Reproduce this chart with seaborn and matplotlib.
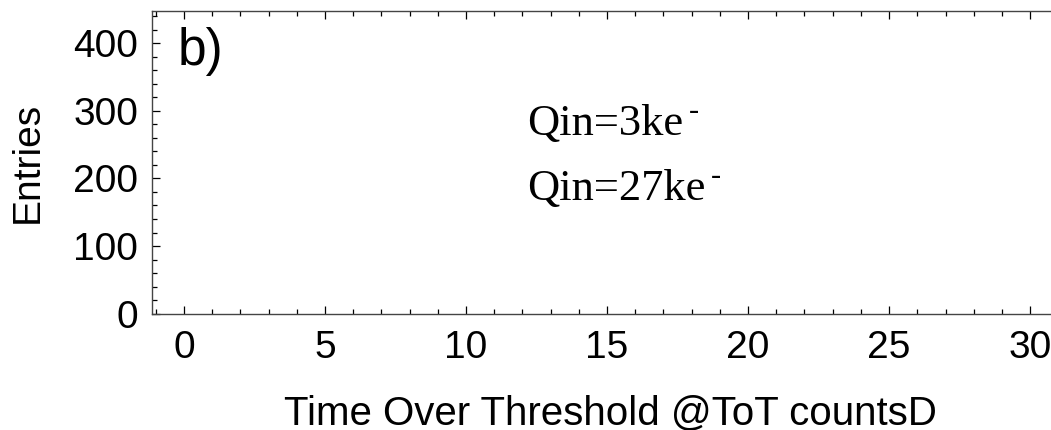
import matplotlib
matplotlib.use("Agg")
import matplotlib.pyplot as plt
import seaborn as sns
import numpy as np

# ---- data / labels ----
x_major_ticks = [0, 5, 10, 15, 20, 25, 30]
x_minor_ticks = list(range(-1, 31))
y_major_ticks = [0, 100, 200, 300, 400]
y_minor_ticks = list(range(0, 441, 20))
series_labels = ["Qin=3ke", "Qin=27ke"]
x_label = "Time Over Threshold @ToT countsD"
y_label = "Entries"
panel_label = "b)"
x_limits = (-1.13, 30.74)
y_limits = (0, 448)

sns.set_theme(style="ticks")
plt.rcParams["font.family"] = ["Liberation Sans", "DejaVu Sans"]
plt.rcParams["text.color"] = "black"
plt.rcParams["axes.labelcolor"] = "black"
plt.rcParams["xtick.color"] = "black"
plt.rcParams["ytick.color"] = "black"

W, H = 1051, 430
fig = plt.figure(figsize=(W / 100, H / 100), dpi=100)
ax = fig.add_axes([152 / W, 1 - 313.7 / H, 1 - 152 / W, (313.7 - 10.7) / H])

ax.set_xlim(*x_limits)
ax.set_ylim(*y_limits)
ax.set_xticks(x_major_ticks)
ax.set_xticks(x_minor_ticks, minor=True)
ax.set_yticks(y_major_ticks)
ax.set_yticks(y_minor_ticks, minor=True)
ax.set_facecolor("white")

sns.despine(ax=ax, top=False, right=True)
for s in ["left", "bottom", "top"]:
    ax.spines[s].set_color("#444444")
    ax.spines[s].set_linewidth(1.0)

ax.tick_params(axis="both", which="both", direction="in", top=True, right=False,
               colors="black", labelcolor="black", width=0.9)
ax.tick_params(axis="both", which="major", length=5.6, labelsize=28)
ax.tick_params(axis="both", which="minor", length=3.3)
ax.tick_params(axis="x", which="major", pad=12)
ax.tick_params(axis="y", which="major", pad=10)

# axis labels
fig.text(610 / W, 1 - 424 / H, x_label, fontsize=29, ha="center", va="baseline", color="black")
fig.text(28 / W, 1 - 162 / H, y_label, fontsize=28, rotation=90, ha="center", va="center",
         color="black")
fig.text(178 / W, 1 - 65 / H, panel_label, fontsize=37, ha="left", va="baseline", color="black")

# legend-like texts (serif with superscript minus)
serif = ["Liberation Serif", "DejaVu Serif"]
baselines = [135, 200]
fig.canvas.draw()
renderer = fig.canvas.get_renderer()
for lab, yb in zip(series_labels, baselines):
    t = fig.text(527 / W, 1 - yb / H, lab, fontsize=32, family=serif, ha="left",
                 va="baseline", color="black")
    bb = t.get_window_extent(renderer=renderer)
    fig.text((bb.x1 + 6) / W, 1 - (yb - 16) / H, "-", fontsize=22, family=serif,
             ha="left", va="baseline", color="black")

fig.savefig("out.png", dpi=100, facecolor="white")
